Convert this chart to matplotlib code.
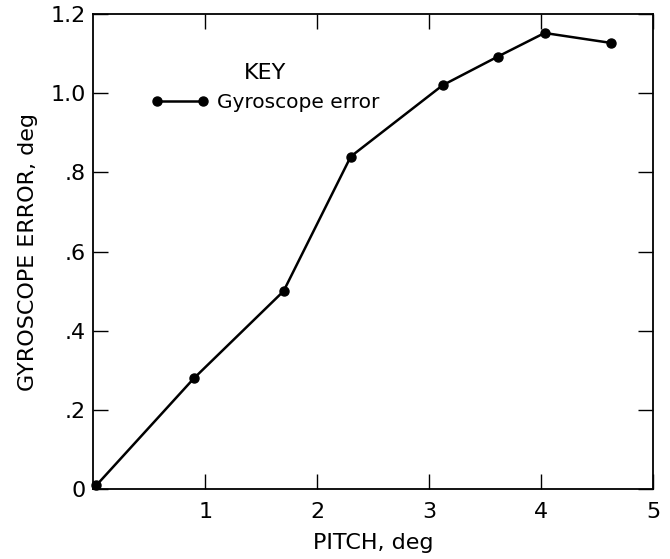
import matplotlib.pyplot as plt

# gyroscope error vs pitch
pitch = [0.03, 0.9, 1.7, 2.3, 3.12, 3.61, 4.03, 4.62]
gyro_error = [0.01, 0.28, 0.5, 0.84, 1.02, 1.092, 1.152, 1.127]

x_ticks = [1, 2, 3, 4, 5]
x_labels = ['1', '2', '3', '4', '5']
y_ticks = [0, 0.2, 0.4, 0.6, 0.8, 1.0, 1.2]
y_labels = ['0', '.2', '.4', '.6', '.8', '1.0', '1.2']

plt.rcParams['font.family'] = ['DejaVu Sans']

fig = plt.figure(figsize=(6.7, 5.59), dpi=100)
ax = fig.add_axes([0.139, 0.125, 0.836, 0.85])

ax.plot(pitch, gyro_error, color='k', linewidth=1.8, marker='o',
        markersize=6.5, label='Gyroscope error', clip_on=False)

ax.set_xlim(0, 5)
ax.set_ylim(0, 1.2)
ax.set_xticks(x_ticks)
ax.set_xticklabels(x_labels)
ax.set_yticks(y_ticks)
ax.set_yticklabels(y_labels)
ax.tick_params(direction='in', length=11, width=1, top=True, right=True,
               labelsize=16)
ax.tick_params(axis='x', pad=9)
ax.tick_params(axis='y', pad=5)

for side in ax.spines.values():
    side.set_linewidth(1.3)

ax.set_xlabel('PITCH, deg', fontsize=16, labelpad=8)
ax.set_ylabel('GYROSCOPE ERROR, deg', fontsize=16, labelpad=9)

leg = ax.legend(loc='upper left', bbox_to_anchor=(0.07, 0.935), frameon=False,
                title='KEY', numpoints=2, handlelength=2.9, handletextpad=0.4,
                fontsize=14.5, title_fontsize=16)

fig.savefig('out.png', dpi=100)
